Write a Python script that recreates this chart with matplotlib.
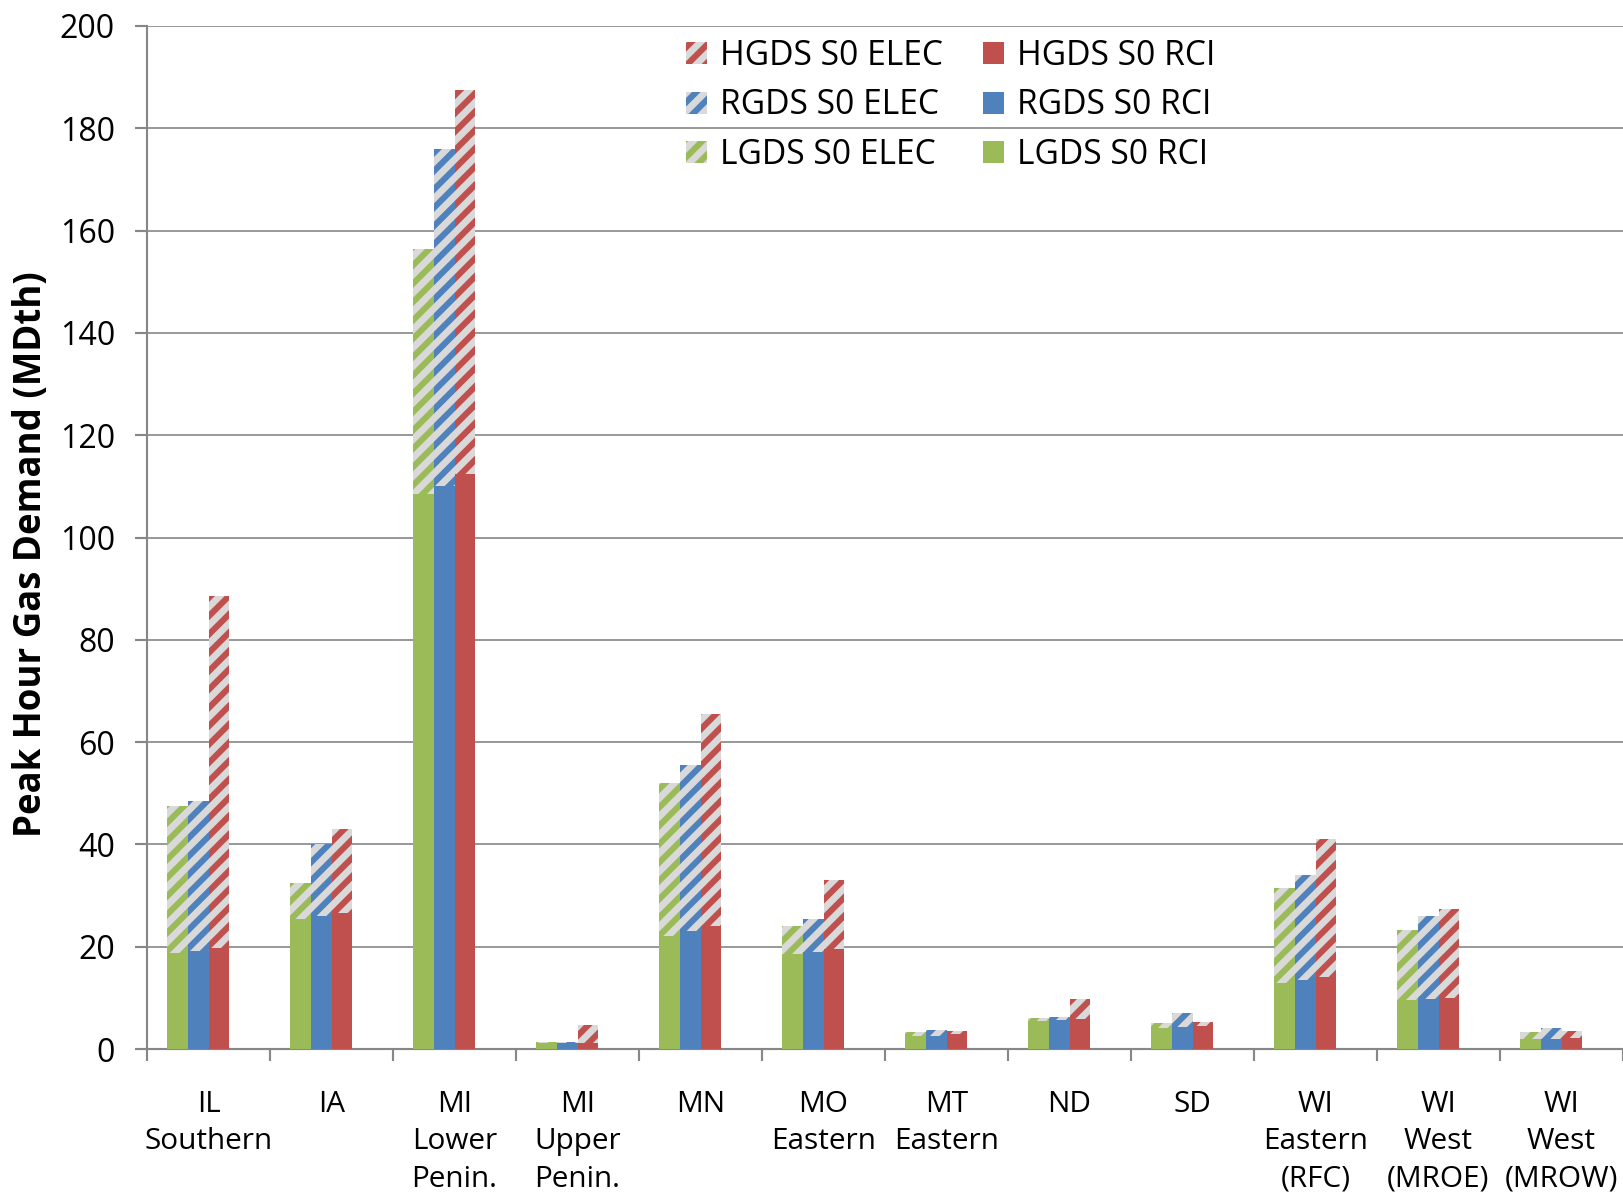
import numpy as np
import matplotlib
matplotlib.use("Agg")
import matplotlib.pyplot as plt

# regions and peak hour demand (MDth), RCI part + ELEC part stacked on top
regions = ["IL\nSouthern", "IA", "MI\nLower\nPenin.", "MI\nUpper\nPenin.", "MN",
           "MO\nEastern", "MT\nEastern", "ND", "SD", "WI\nEastern\n(RFC)",
           "WI\nWest\n(MROE)", "WI\nWest\n(MROW)"]

lgds_rci = [18.7, 25.5, 108.5, 1.2, 22.0, 18.5, 2.5, 5.5, 4.2, 13.0, 9.5, 2.0]
lgds_elec = [28.8, 7.0, 48.0, 0.1, 30.0, 5.5, 0.9, 0.6, 0.9, 18.5, 13.8, 1.4]
rgds_rci = [19.2, 26.0, 110.0, 1.2, 23.0, 19.0, 2.6, 5.7, 4.3, 13.5, 9.7, 2.0]
rgds_elec = [29.3, 14.0, 66.0, 0.1, 32.5, 6.5, 1.1, 0.6, 2.8, 20.5, 16.3, 2.2]
hgds_rci = [19.7, 26.5, 112.5, 1.2, 24.0, 19.5, 2.85, 5.8, 4.5, 14.0, 10.0, 2.2]
hgds_elec = [68.8, 16.5, 75.0, 3.5, 41.5, 13.5, 0.75, 4.0, 0.8, 27.0, 17.3, 1.4]

green = "#9BBB59"
blue = "#4F81BD"
red = "#C0504D"
hatch_bg = "#D9D9D9"
grid_col = "#878787"

plt.rcParams["font.family"] = ["Open Sans", "DejaVu Sans"]
plt.rcParams["hatch.linewidth"] = 4.0

fig = plt.figure(figsize=(1623 / 110, 1194 / 110), dpi=110)
ax = fig.add_axes([147 / 1623, 1 - 1049 / 1194, 1 - 147 / 1623, 1023 / 1194])

x = np.arange(len(regions))
w = 0.168
series = [
    ("LGDS", lgds_rci, lgds_elec, green, x - 0.252),
    ("RGDS", rgds_rci, rgds_elec, blue, x - 0.084),
    ("HGDS", hgds_rci, hgds_elec, red, x + 0.084),
]

handles = {}
for name, rci, elec, col, pos in series:
    b1 = ax.bar(pos, rci, w, color=col, linewidth=0, zorder=3,
                label=f"{name} S0 RCI")
    b2 = ax.bar(pos, elec, w, bottom=rci, facecolor=hatch_bg, edgecolor=col,
                hatch="//", linewidth=0, zorder=3, label=f"{name} S0 ELEC")
    handles[name] = (b1, b2)

order = [handles["HGDS"][1], handles["RGDS"][1], handles["LGDS"][1],
         handles["HGDS"][0], handles["RGDS"][0], handles["LGDS"][0]]
leg = fig.legend(handles=order, labels=[h.get_label() for h in order], ncol=2,
                 loc="upper left", bbox_to_anchor=(686 / 1623, 1 - 39 / 1194),
                 frameon=False, fontsize=22, handlelength=0.62, handleheight=0.62,
                 handletextpad=0.4, columnspacing=1.18, labelspacing=0.46,
                 borderpad=0, borderaxespad=0)

ax.set_ylim(0, 200)
ax.set_xlim(-0.5, 11.46)
ax.set_yticks(np.arange(0, 201, 20))
ax.yaxis.grid(True, color=grid_col, linewidth=1.1, zorder=0)
ax.set_axisbelow(True)

for s in ["top", "right"]:
    ax.spines[s].set_visible(False)
for s in ["left", "bottom"]:
    ax.spines[s].set_color(grid_col)
    ax.spines[s].set_linewidth(1.4)

ax.set_xticks(x)
ax.set_xticklabels(regions, fontsize=19.5, linespacing=1.37, va="top")
ax.set_xticks(np.arange(-0.5, 11.6, 1), minor=True)
ax.tick_params(axis="x", which="major", length=0, pad=27)
ax.tick_params(axis="x", which="minor", length=8, color=grid_col, width=1.4)
ax.tick_params(axis="y", length=8, color=grid_col, width=1.4, labelsize=21, pad=13)

ax.set_ylabel("Peak Hour Gas Demand (MDth)", fontsize=24, fontweight="bold")
ax.yaxis.set_label_coords(-0.066, 0.484)

fig.savefig("out.png", dpi=110)
